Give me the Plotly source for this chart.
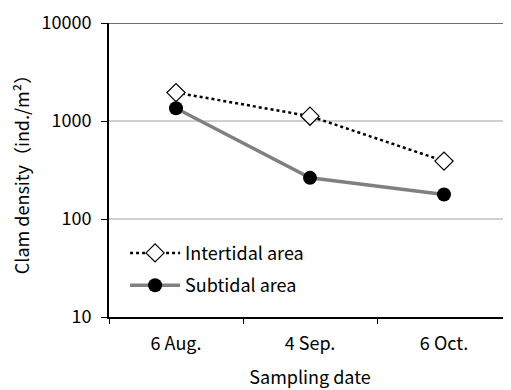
import plotly.graph_objects as go

dates = ["6 Aug.", "4 Sep.", "6 Oct."]
intertidal = [1950, 1120, 390]
subtidal = [1350, 263, 178]
y_ticks = [10, 100, 1000, 10000]

FONT = "Noto Sans CJK JP, DejaVu Sans, sans-serif"
FS = 18

fig = go.Figure()
fig.add_trace(go.Scatter(
    x=dates, y=intertidal, name="Intertidal area", mode="lines+markers",
    legendgroup="a",
    line=dict(color="black", width=2.5, dash="dot"),
    marker=dict(symbol="diamond", size=14, color="white", line=dict(color="black", width=1.2)),
))
fig.add_trace(go.Scatter(
    x=dates, y=subtidal, name="Subtidal area", mode="lines+markers",
    legendgroup="b",
    line=dict(color="#808080", width=3.5),
    marker=dict(symbol="circle", size=14, color="black", line=dict(color="black", width=0)),
))

grid_colors = {100: "#a0a0a0", 1000: "#a0a0a0", 10000: "#404040"}
for v in y_ticks[1:]:
    fig.add_shape(type="line", xref="paper", x0=0, x1=1, yref="y", y0=v, y1=v,
                  line=dict(color=grid_colors[v], width=1.5 if v == 10000 else 1),
                  layer="below")

fig.update_layout(
    width=503, height=382,
    margin=dict(l=101, r=0, t=6, b=73),
    paper_bgcolor="white", plot_bgcolor="white",
    font=dict(family=FONT, size=FS, color="black"),
    showlegend=True,
    legend=dict(x=0.04, y=0.28, xanchor="left", yanchor="top",
                bgcolor="rgba(0,0,0,0)", font=dict(size=FS), traceorder="grouped",
                tracegroupgap=6, itemwidth=50),
    xaxis=dict(
        type="category", range=[-0.5, 2.5], tickson="boundaries",
        showline=True, linecolor="black", linewidth=2,
        ticks="outside", ticklen=5, tickcolor="black",
        showgrid=False, zeroline=False,
        title=dict(text="Sampling date", font=dict(size=FS), standoff=18),
        tickfont=dict(size=FS), ticklabelstandoff=9,
    ),
    yaxis=dict(
        type="log", range=[1, 4], tickvals=y_ticks, ticktext=[str(v) for v in y_ticks],
        showline=True, linecolor="black", linewidth=2,
        ticks="outside", ticklen=6, tickcolor="black",
        showgrid=False, zeroline=False, ticklabeloverflow="allow",
        title=dict(text="Clam density（ind./m²）", font=dict(size=FS), standoff=20),
        tickfont=dict(size=FS), ticklabelstandoff=6,
    ),
)

fig.write_html("out.html")
